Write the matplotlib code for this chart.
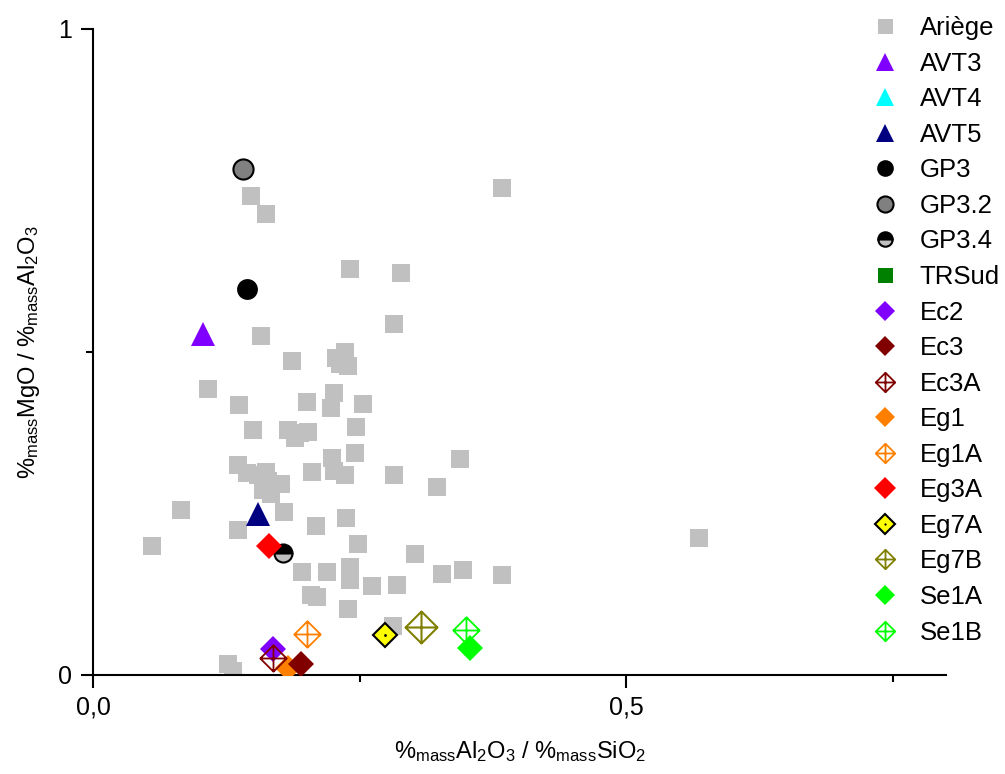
import numpy as np
import matplotlib.pyplot as plt
from matplotlib.path import Path
from matplotlib.legend_handler import HandlerTuple

plt.rcParams['font.family'] = ['Liberation Sans', 'DejaVu Sans']
plt.rcParams['mathtext.fontset'] = 'custom'
plt.rcParams['mathtext.rm'] = 'Liberation Sans'
plt.rcParams['mathtext.it'] = 'Liberation Sans'

# Ariège reference samples (Al2O3/SiO2, MgO/Al2O3)
ariege_x = [0.148, 0.162, 0.384, 0.241, 0.289, 0.282, 0.158, 0.187, 0.108, 0.137,
            0.150, 0.201, 0.253, 0.236, 0.228, 0.232, 0.239, 0.226, 0.223, 0.247,
            0.183, 0.189, 0.194, 0.202, 0.246, 0.224, 0.136, 0.144, 0.155, 0.162,
            0.164, 0.176, 0.159, 0.167, 0.205, 0.226, 0.236, 0.282, 0.344, 0.323,
            0.083, 0.055, 0.136, 0.179, 0.209, 0.237, 0.249, 0.302, 0.196, 0.219,
            0.241, 0.241, 0.204, 0.210, 0.239, 0.262, 0.285, 0.327, 0.347, 0.384,
            0.281, 0.127, 0.131, 0.568]
ariege_y = [0.741, 0.714, 0.754, 0.628, 0.622, 0.543, 0.525, 0.486, 0.443, 0.418,
            0.379, 0.423, 0.420, 0.500, 0.491, 0.481, 0.478, 0.437, 0.413, 0.384,
            0.379, 0.367, 0.375, 0.376, 0.344, 0.336, 0.325, 0.313, 0.310, 0.314,
            0.300, 0.296, 0.286, 0.280, 0.314, 0.316, 0.310, 0.310, 0.334, 0.291,
            0.255, 0.200, 0.224, 0.252, 0.231, 0.243, 0.203, 0.187, 0.159, 0.159,
            0.167, 0.147, 0.124, 0.121, 0.102, 0.138, 0.139, 0.156, 0.163, 0.155,
            0.076, 0.017, 0.006, 0.212]

avt3_x, avt3_y = [0.103], [0.528]
avt4_x, avt4_y = [], []
avt5_x, avt5_y = [0.155], [0.249]
gp3_x, gp3_y = [0.144], [0.598]
gp32_x, gp32_y = [0.141], [0.783]
gp34_x, gp34_y = [0.178], [0.189]
trsud_x, trsud_y = [], []
ec2_x, ec2_y = [0.169], [0.040]
ec3_x, ec3_y = [0.195], [0.017]
ec3a_x, ec3a_y = [0.169], [0.026]
eg1_x, eg1_y = [0.183], [0.011]
eg1a_x, eg1a_y = [0.201], [0.063]
eg3a_x, eg3a_y = [0.165], [0.200]
eg7a_x, eg7a_y = [0.274], [0.062]
eg7b_x, eg7b_y = [0.308], [0.074]
se1a_x, se1a_y = [0.354], [0.042]
se1b_x, se1b_y = [0.350], [0.070]

# open diamond with a cross inside
cross_diamond = Path(
    [(0, 1), (1, 0), (0, -1), (-1, 0), (0, 1), (-1, 0), (1, 0), (0, -1), (0, 1)],
    [Path.MOVETO, Path.LINETO, Path.LINETO, Path.LINETO, Path.CLOSEPOLY,
     Path.MOVETO, Path.LINETO, Path.MOVETO, Path.LINETO])

fig = plt.figure(figsize=(10.05, 7.74), dpi=100)
ax = fig.add_axes([93 / 1005, 99 / 774, 853 / 1005, 646 / 774])

ax.plot(ariege_x, ariege_y, 's', color='#c0c0c0', ms=13.5, mew=0, label='Ariège', zorder=2)
ax.plot(avt3_x, avt3_y, '^', color='#8000ff', ms=17, mew=0, label='AVT3', zorder=3)
ax.plot(avt4_x, avt4_y, '^', color='#00ffff', ms=17, mew=0, label='AVT4', zorder=3)
ax.plot(avt5_x, avt5_y, '^', color='#000080', ms=17, mew=0, label='AVT5', zorder=3)
ax.plot(gp3_x, gp3_y, 'o', color='black', ms=15, mew=0, label='GP3', zorder=3)
ax.plot(gp32_x, gp32_y, 'o', mfc='#808080', mec='black', ms=14.5, mew=1.5, label='GP3.2', zorder=3)
ax.plot(gp34_x, gp34_y, 'o', mfc='black', mfcalt='#c0c0c0', fillstyle='top', mec='black',
        ms=13, mew=1.5, label='GP3.4', zorder=3)
ax.plot(trsud_x, trsud_y, 's', color='#008000', ms=13.5, mew=0, label='TRSud', zorder=3)
ax.plot(ec2_x, ec2_y, 'D', color='#8000ff', ms=13, mew=0, label='Ec2', zorder=3)
ax.plot(ec3_x, ec3_y, 'D', color='#800000', ms=13, mew=0, label='Ec3', zorder=4)
ax.plot(ec3a_x, ec3a_y, marker=cross_diamond, ls='none', mfc='none', mec='#800000',
        ms=19, mew=1.3, label='Ec3A', zorder=4)
ax.plot(eg1_x, eg1_y, 'D', color='#ff8000', ms=13, mew=0, label='Eg1', zorder=3.5)
ax.plot(eg1a_x, eg1a_y, marker=cross_diamond, ls='none', mfc='none', mec='#ff8000',
        ms=19, mew=1.3, label='Eg1A', zorder=4)
ax.plot(eg3a_x, eg3a_y, 'D', color='#ff0000', ms=13.5, mew=0, label='Eg3A', zorder=4)
h_eg7a, = ax.plot(eg7a_x, eg7a_y, 'D', mfc='#ffff00', mec='black', ms=12.5, mew=1.5, zorder=4)
h_eg7a_dot, = ax.plot(eg7a_x, eg7a_y, 'o', color='black', ms=2, mew=0, zorder=5)
ax.plot(eg7b_x, eg7b_y, marker=cross_diamond, ls='none', mfc='none', mec='#808000',
        ms=23, mew=1.5, label='Eg7B', zorder=4)
ax.plot(se1a_x, se1a_y, 'D', color='#00ff00', ms=13, mew=0, label='Se1A', zorder=5)
ax.plot(se1b_x, se1b_y, marker=cross_diamond, ls='none', mfc='none', mec='#00ff00',
        ms=19, mew=1.3, label='Se1B', zorder=4)

ax.set_xlim(0, 0.8)
ax.set_ylim(0, 1)
ax.spines['top'].set_visible(False)
ax.spines['right'].set_visible(False)
for s in ('left', 'bottom'):
    ax.spines[s].set_linewidth(1.5)

ax.set_xticks([0, 0.5])
ax.set_xticklabels(['0,0', '0,5'])
ax.set_xticks([0.25, 0.75], minor=True)
ax.set_yticks([0, 1])
ax.set_yticklabels(['0', '1'])
ax.set_yticks([0.5], minor=True)
ax.tick_params(which='major', direction='out', length=9, width=1.5, labelsize=18, pad=6)
ax.tick_params(which='minor', direction='out', length=5, width=1.5)

ax.set_xlabel(r'%$_{\mathrm{mass}}$Al$_2$O$_3$ / %$_{\mathrm{mass}}$SiO$_2$', fontsize=17, labelpad=14)
ax.set_ylabel(r'%$_{\mathrm{mass}}$MgO / %$_{\mathrm{mass}}$Al$_2$O$_3$', fontsize=17, labelpad=12)

handles, labels = ax.get_legend_handles_labels()
idx = labels.index('Eg7B')
handles.insert(idx, (h_eg7a, h_eg7a_dot))
labels.insert(idx, 'Eg7A')
leg = ax.legend(handles, labels, loc='upper left', bbox_to_anchor=(872 / 1005, 1 - 16 / 774),
                bbox_transform=fig.transFigure, frameon=False, fontsize=18.5, markerscale=0.8,
                handlelength=1.0, handletextpad=0.86, labelspacing=0.45, borderpad=0,
                borderaxespad=0, handler_map={tuple: HandlerTuple(ndivide=1, pad=0)})
# legend: same size for all open cross diamonds
for h in leg.legend_handles:
    if hasattr(h, 'get_marker') and isinstance(h.get_marker(), Path):
        h.set_markersize(14)
        h.set_markeredgewidth(1.3)

plt.savefig('out.png', dpi=100)
